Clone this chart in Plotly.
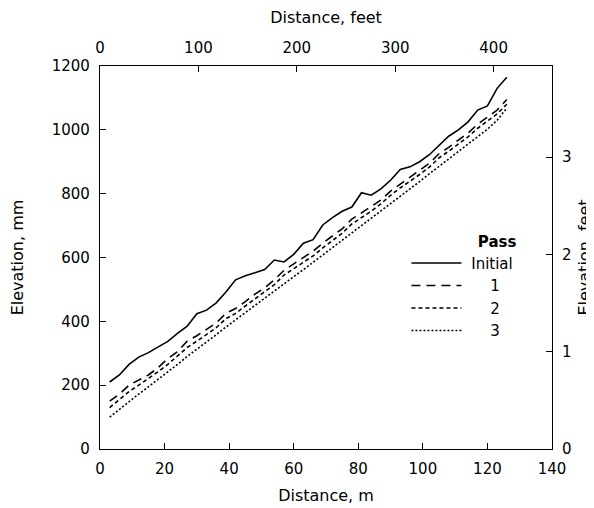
import plotly.graph_objects as go

distance_m = [3, 6, 9, 12, 15, 18, 21, 24, 27, 30, 33, 36, 39, 42, 45, 48, 51, 54, 57, 60, 63,
              66, 69, 72, 75, 78, 81, 84, 87, 90, 93, 96, 99, 102, 105, 108, 111, 114, 117, 120, 123, 126]
initial = [210, 232, 265, 288, 302, 320, 337, 362, 385, 424, 435, 458, 492, 530, 543, 552, 562, 592, 586, 610, 645,
           656, 702, 725, 745, 758, 803, 795, 815, 842, 876, 884, 900, 922, 950, 980, 1000, 1025, 1062, 1075, 1130, 1165]
pass1 = [150, 172, 200, 215, 232, 255, 283, 305, 338, 355, 375, 395, 425, 440, 462, 485, 505, 530, 560, 580, 600,
         620, 645, 668, 690, 720, 740, 760, 780, 808, 830, 850, 872, 895, 925, 945, 968, 990, 1018, 1040, 1062, 1095]
pass2 = [130, 155, 180, 200, 220, 242, 265, 290, 318, 338, 360, 380, 408, 425, 448, 470, 492, 515, 545, 565, 585,
         605, 630, 652, 676, 705, 725, 745, 768, 795, 818, 838, 860, 883, 912, 933, 955, 978, 1005, 1028, 1050, 1080]
pass3 = [100, 125, 150, 172, 195, 218, 242, 265, 290, 312, 335, 358, 382, 405, 428, 450, 472, 495, 518, 540, 562,
         585, 608, 630, 652, 676, 700, 722, 745, 768, 792, 815, 838, 862, 885, 908, 932, 955, 978, 1002, 1030, 1068]

series_names = ["Initial", "1", "2", "3"]
series_values = [initial, pass1, pass2, pass3]
dashes = ["solid", "9px,6px", "4px,3px", "2px,2px"]

X_MAX_M = 140
Y_MAX_MM = 1200
FT = 0.3048

NB = "\u00a0"
font = "DejaVu Sans"
fig = go.Figure()
for name, vals, d in zip(series_names, series_values, dashes):
    label = NB + name if len(name) > 1 else NB * 5 + name
    fig.add_trace(go.Scatter(x=distance_m, y=vals, mode="lines", name=label,
                             line=dict(color="black", width=1.6, dash=d)))
# helper trace so the feet axes are drawn
fig.add_trace(go.Scatter(x=[], y=[], xaxis="x2", yaxis="y2", showlegend=False))

axis_common = dict(showline=True, linecolor="black", linewidth=1.2, ticks="inside", ticklen=6,
                   tickcolor="black", showgrid=False, zeroline=False, automargin=False,
                   ticklabelstandoff=6,
                   tickfont=dict(family=font, size=15, color="black"))
tfont = dict(family=font, size=16, color="black")

fig.update_layout(
    width=586, height=500,
    margin=dict(l=92, r=42, t=58, b=59),
    paper_bgcolor="white", plot_bgcolor="white",
    font=dict(family=font, size=15, color="black"),
    xaxis=dict(range=[0, X_MAX_M], dtick=20, tick0=0,
               title=dict(text="Distance, m", font=tfont, standoff=12),
               **axis_common),
    yaxis=dict(range=[0, Y_MAX_MM], dtick=200, tick0=0,
               title=dict(text="Elevation, mm", font=tfont, standoff=24),
               **axis_common),
    xaxis2=dict(overlaying="x", side="top", range=[0, X_MAX_M / FT], dtick=100, tick0=0,
                title=dict(text="Distance, feet", font=tfont, standoff=14),
                **axis_common),
    yaxis2=dict(overlaying="y", side="right", range=[0, Y_MAX_MM / (FT * 1000)], dtick=1, tick0=0,
                title=dict(text="Elevation, feet", font=tfont, standoff=8),
                **axis_common),
    legend=dict(x=0.678, y=0.579, xanchor="left", yanchor="top",
                bgcolor="rgba(0,0,0,0)", borderwidth=0,
                title=dict(text="<b>Pass</b>", font=dict(family=font, size=15), side="top right"),
                font=dict(family=font, size=15), itemwidth=50, tracegroupgap=2),
)

fig.write_html("out.html")
